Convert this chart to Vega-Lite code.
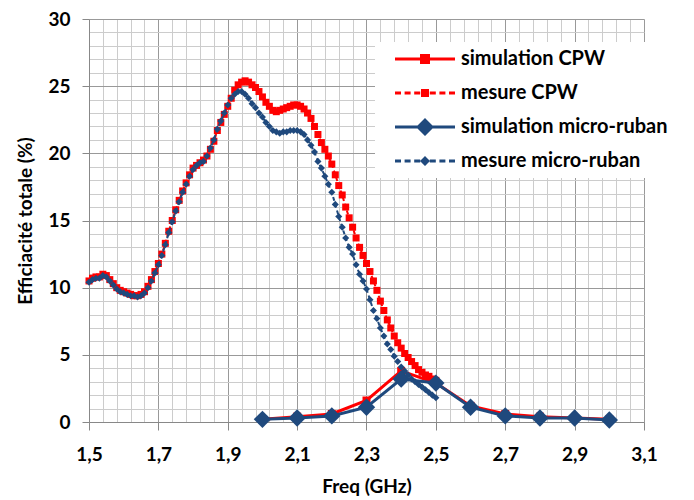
{
"$schema": "https://vega.github.io/schema/vega-lite/v6.json",
"width": 555, "height": 403,
"autosize": "none",
"padding": {"left": 89, "top": 19, "right": 50, "bottom": 78},
"background": "white",
"config": {"view": {"stroke": null}, "font": "Lato"},
"datasets": {
"mesCPW": [
{"f":1.50,"v":10.5},{"f":1.51,"v":10.7},{"f":1.52,"v":10.8},{"f":1.53,"v":10.8},{"f":1.54,"v":11.0},{"f":1.55,"v":10.9},{"f":1.56,"v":10.6},{"f":1.57,"v":10.3},{"f":1.58,"v":10.0},{"f":1.59,"v":9.8},
{"f":1.60,"v":9.7},{"f":1.61,"v":9.6},{"f":1.62,"v":9.5},{"f":1.63,"v":9.4},{"f":1.64,"v":9.4},{"f":1.65,"v":9.5},{"f":1.66,"v":9.7},{"f":1.67,"v":10.1},{"f":1.68,"v":10.6},{"f":1.69,"v":11.2},
{"f":1.70,"v":11.8},{"f":1.71,"v":12.5},{"f":1.72,"v":13.3},{"f":1.73,"v":14.2},{"f":1.74,"v":15.0},{"f":1.75,"v":15.8},{"f":1.76,"v":16.5},{"f":1.77,"v":17.2},{"f":1.78,"v":17.8},{"f":1.79,"v":18.4},
{"f":1.80,"v":18.9},{"f":1.81,"v":19.1},{"f":1.82,"v":19.3},{"f":1.83,"v":19.5},{"f":1.84,"v":19.8},{"f":1.85,"v":20.3},{"f":1.86,"v":20.9},{"f":1.87,"v":21.7},{"f":1.88,"v":22.3},{"f":1.89,"v":22.9},
{"f":1.90,"v":23.5},{"f":1.91,"v":24.1},{"f":1.92,"v":24.7},{"f":1.93,"v":25.1},{"f":1.94,"v":25.3},{"f":1.95,"v":25.4},{"f":1.96,"v":25.3},{"f":1.97,"v":25.1},{"f":1.98,"v":24.9},{"f":1.99,"v":24.6},
{"f":2.00,"v":24.2},{"f":2.01,"v":23.8},{"f":2.02,"v":23.5},{"f":2.03,"v":23.2},{"f":2.04,"v":23.1},{"f":2.05,"v":23.2},{"f":2.06,"v":23.3},{"f":2.07,"v":23.4},{"f":2.08,"v":23.5},{"f":2.09,"v":23.6},
{"f":2.10,"v":23.6},{"f":2.11,"v":23.5},{"f":2.12,"v":23.3},{"f":2.13,"v":23.0},{"f":2.14,"v":22.6},{"f":2.15,"v":22.0},{"f":2.16,"v":21.4},{"f":2.17,"v":20.8},{"f":2.18,"v":20.3},{"f":2.19,"v":19.8},
{"f":2.20,"v":19.2},{"f":2.21,"v":18.4},{"f":2.22,"v":17.6},{"f":2.23,"v":16.9},{"f":2.24,"v":16.0},{"f":2.25,"v":15.2},{"f":2.26,"v":14.5},{"f":2.27,"v":13.7},{"f":2.28,"v":13.0},{"f":2.29,"v":12.4},
{"f":2.30,"v":11.8},{"f":2.31,"v":11.2},{"f":2.32,"v":10.5},{"f":2.33,"v":9.8},{"f":2.34,"v":9.0},{"f":2.35,"v":8.3},{"f":2.36,"v":7.6},{"f":2.37,"v":7.0},{"f":2.38,"v":6.4},{"f":2.39,"v":5.9},
{"f":2.40,"v":5.5},{"f":2.41,"v":5.1},{"f":2.42,"v":4.8},{"f":2.43,"v":4.5},{"f":2.44,"v":4.2},{"f":2.45,"v":3.9},{"f":2.46,"v":3.7},{"f":2.47,"v":3.5},{"f":2.48,"v":3.4},{"f":2.49,"v":3.2},
{"f":2.50,"v":3.1}
],
"mesMicro": [
{"f":1.50,"v":10.4},{"f":1.51,"v":10.6},{"f":1.52,"v":10.7},{"f":1.53,"v":10.7},{"f":1.54,"v":10.9},{"f":1.55,"v":10.8},{"f":1.56,"v":10.5},{"f":1.57,"v":10.2},{"f":1.58,"v":9.9},{"f":1.59,"v":9.7},
{"f":1.60,"v":9.6},{"f":1.61,"v":9.5},{"f":1.62,"v":9.4},{"f":1.63,"v":9.4},{"f":1.64,"v":9.3},{"f":1.65,"v":9.4},{"f":1.66,"v":9.6},{"f":1.67,"v":10.0},{"f":1.68,"v":10.5},{"f":1.69,"v":11.1},
{"f":1.70,"v":11.7},{"f":1.71,"v":12.4},{"f":1.72,"v":13.2},{"f":1.73,"v":14.1},{"f":1.74,"v":14.9},{"f":1.75,"v":15.7},{"f":1.76,"v":16.4},{"f":1.77,"v":17.1},{"f":1.78,"v":17.7},{"f":1.79,"v":18.3},
{"f":1.80,"v":18.8},{"f":1.81,"v":19.1},{"f":1.82,"v":19.3},{"f":1.83,"v":19.4},{"f":1.84,"v":19.8},{"f":1.85,"v":20.4},{"f":1.86,"v":21.0},{"f":1.87,"v":21.8},{"f":1.88,"v":22.4},{"f":1.89,"v":23.0},
{"f":1.90,"v":23.6},{"f":1.91,"v":24.1},{"f":1.92,"v":24.4},{"f":1.93,"v":24.6},{"f":1.94,"v":24.6},{"f":1.95,"v":24.4},{"f":1.96,"v":24.1},{"f":1.97,"v":23.7},{"f":1.98,"v":23.4},{"f":1.99,"v":23.0},
{"f":2.00,"v":22.7},{"f":2.01,"v":22.3},{"f":2.02,"v":22.0},{"f":2.03,"v":21.7},{"f":2.04,"v":21.6},{"f":2.05,"v":21.5},{"f":2.06,"v":21.6},{"f":2.07,"v":21.6},{"f":2.08,"v":21.7},{"f":2.09,"v":21.7},
{"f":2.10,"v":21.7},{"f":2.11,"v":21.6},{"f":2.12,"v":21.4},{"f":2.13,"v":21.0},{"f":2.14,"v":20.6},{"f":2.15,"v":20.1},{"f":2.16,"v":19.4},{"f":2.17,"v":18.9},{"f":2.18,"v":18.3},{"f":2.19,"v":17.7},
{"f":2.20,"v":17.1},{"f":2.21,"v":16.2},{"f":2.22,"v":15.3},{"f":2.23,"v":14.5},{"f":2.24,"v":13.7},{"f":2.25,"v":13.0},{"f":2.26,"v":12.5},{"f":2.27,"v":11.7},{"f":2.28,"v":11.0},{"f":2.29,"v":10.5},
{"f":2.30,"v":9.9},{"f":2.31,"v":9.1},{"f":2.32,"v":8.3},{"f":2.33,"v":7.7},{"f":2.34,"v":7.0},{"f":2.35,"v":6.4},{"f":2.36,"v":5.8},{"f":2.37,"v":5.4},{"f":2.38,"v":4.9},{"f":2.39,"v":4.5},
{"f":2.40,"v":4.1},{"f":2.41,"v":3.8},{"f":2.42,"v":3.5},{"f":2.43,"v":3.2},{"f":2.44,"v":3.0},{"f":2.45,"v":2.8},{"f":2.46,"v":2.6},{"f":2.47,"v":2.4},{"f":2.48,"v":2.2},{"f":2.49,"v":2.0},
{"f":2.50,"v":1.8}
],
"simCPW": [
{"f":2.0,"v":0.2},{"f":2.1,"v":0.4},{"f":2.2,"v":0.6},{"f":2.3,"v":1.6},{"f":2.4,"v":3.8},{"f":2.5,"v":2.9},{"f":2.6,"v":1.2},{"f":2.7,"v":0.6},{"f":2.8,"v":0.4},{"f":2.9,"v":0.3},{"f":3.0,"v":0.2}
],
"simMicro": [
{"f":2.0,"v":0.2},{"f":2.1,"v":0.3},{"f":2.2,"v":0.45},{"f":2.3,"v":1.1},{"f":2.4,"v":3.2},{"f":2.5,"v":2.9},{"f":2.6,"v":1.1},{"f":2.7,"v":0.45},{"f":2.8,"v":0.3},{"f":2.9,"v":0.3},{"f":3.0,"v":0.15}
],
"legend": [
{"series":"simulation CPW"},{"series":"mesure CPW"},{"series":"simulation micro-ruban"},{"series":"mesure micro-ruban"}
]
},
"encoding": {
"x": {"field": "f", "type": "quantitative", "title": "Freq (GHz)",
 "scale": {"domain": [1.5, 3.1], "nice": false, "zero": false},
 "axis": {
  "values": [1.5,1.54,1.58,1.62,1.66,1.7,1.74,1.78,1.82,1.86,1.9,1.94,1.98,2.02,2.06,2.1,2.14,2.18,2.22,2.26,2.3,2.34,2.38,2.42,2.46,2.5,2.54,2.58,2.62,2.66,2.7,2.74,2.78,2.82,2.86,2.9,2.94,2.98,3.02,3.06,3.1],
  "grid": true,
  "gridColor": {"condition": {"test": "abs((datum.value-1.5)*5 - round((datum.value-1.5)*5)) < 0.001", "value": "#999999"}, "value": "#cccccc"},
  "gridWidth": 1,
  "tickColor": {"condition": {"test": "abs((datum.value-1.5)*5 - round((datum.value-1.5)*5)) < 0.001", "value": "#888888"}, "value": "transparent"},
  "tickSize": 8,
  "domainColor": "#888888",
  "labelExpr": "abs((datum.value-1.5)*5 - round((datum.value-1.5)*5)) < 0.001 ? replace(format(datum.value, '.1f'), '.', ',') : ''",
  "labelOverlap": false, "labelFlush": false, "labelBound": false,
  "labelFont": "Lato", "labelFontSize": 19, "labelFontWeight": "bold", "labelColor": "#000000", "labelPadding": 15,
  "titleFont": "Lato", "titleFontSize": 19, "titleFontWeight": "bold", "titleColor": "#000000", "titlePadding": 13
 }},
"y": {"field": "v", "type": "quantitative", "title": "Efficiacité totale  (%)",
 "scale": {"domain": [0, 30], "nice": false},
 "axis": {
  "values": [0,1,2,3,4,5,6,7,8,9,10,11,12,13,14,15,16,17,18,19,20,21,22,23,24,25,26,27,28,29,30],
  "grid": true,
  "gridColor": {"condition": {"test": "datum.value % 5 == 0", "value": "#999999"}, "value": "#cccccc"},
  "gridWidth": 1,
  "tickColor": {"condition": {"test": "datum.value % 5 == 0", "value": "#888888"}, "value": "transparent"},
  "tickSize": 7,
  "domainColor": "#888888",
  "labelExpr": "datum.value % 5 == 0 ? datum.label : ''",
  "labelOverlap": false, "labelFlush": false, "labelBound": false,
  "labelFont": "Lato", "labelFontSize": 19, "labelFontWeight": "bold", "labelColor": "#000000", "labelPadding": 12,
  "titleFont": "Lato", "titleFontSize": 19, "titleFontWeight": "bold", "titleColor": "#000000", "titlePadding": 12
 }}
},
"layer": [
{"data": {"name": "simCPW"}, "mark": {"type": "line", "color": "#FF0000", "strokeWidth": 3}},
{"data": {"name": "simCPW"}, "mark": {"type": "point", "shape": "square", "filled": true, "opacity": 1, "color": "#FF0000", "size": 64}},
{"data": {"name": "mesCPW"}, "mark": {"type": "line", "color": "#FF0000", "strokeWidth": 2, "strokeDash": [4, 3]}},
{"data": {"name": "mesCPW"}, "mark": {"type": "point", "shape": "square", "filled": true, "opacity": 1, "color": "#FF0000", "size": 49}},
{"data": {"name": "simMicro"}, "mark": {"type": "line", "color": "#1F497D", "strokeWidth": 3}},
{"data": {"name": "simMicro"}, "mark": {"type": "point", "shape": "diamond", "filled": true, "opacity": 1, "color": "#1F497D", "size": 300}},
{"data": {"name": "mesMicro"}, "mark": {"type": "line", "color": "#1F497D", "strokeWidth": 2, "strokeDash": [4, 3]}},
{"data": {"name": "mesMicro"}, "mark": {"type": "point", "shape": "diamond", "filled": true, "opacity": 1, "color": "#1F497D", "size": 50}},
{"data": {"name": "legend"}, "mark": {"type": "point", "filled": true, "opacity": 0},
 "encoding": {
  "color": {"field": "series", "type": "nominal",
   "scale": {"domain": ["simulation CPW", "mesure CPW", "simulation micro-ruban", "mesure micro-ruban"], "range": ["#FF0000", "#FF0000", "#1F497D", "#1F497D"]},
   "legend": {"title": null, "orient": "none", "legendX": 286, "legendY": 23, "symbolSize": 400, "symbolStrokeWidth": 0, "symbolOpacity": 1, "symbolOffset": 13,
    "labelFont": "Lato", "labelFontSize": 20, "labelFontWeight": "bold", "labelColor": "#000000", "labelLimit": 400, "labelOffset": 46,
    "fillColor": "white", "padding": 7, "rowPadding": 14}},
  "shape": {"field": "series", "type": "nominal",
   "scale": {"domain": ["simulation CPW", "mesure CPW", "simulation micro-ruban", "mesure micro-ruban"],
    "range": [
     "M-1,-0.15H5V0.15H-1Z M1.5,-0.5H2.5V0.5H1.5Z",
     "M-1,-0.15H-0.4V0.15H-1Z M-0.04,-0.15H0.56V0.15H-0.04Z M0.92,-0.15H1.52V0.15H0.92Z M2.48,-0.15H3.08V0.15H2.48Z M3.44,-0.15H4.04V0.15H3.44Z M4.4,-0.15H5V0.15H4.4Z M1.6,-0.4H2.4V0.4H1.6Z",
     "M-1,-0.15H5V0.15H-1Z M2,-0.9L2.9,0L2,0.9L1.1,0Z",
     "M-1,-0.15H-0.4V0.15H-1Z M-0.04,-0.15H0.56V0.15H-0.04Z M0.92,-0.15H1.52V0.15H0.92Z M2.48,-0.15H3.08V0.15H2.48Z M3.44,-0.15H4.04V0.15H3.44Z M4.4,-0.15H5V0.15H4.4Z M2,-0.5L2.5,0L2,0.5L1.5,0Z"
    ]},
   "legend": {"title": null, "orient": "none", "legendX": 286, "legendY": 23, "symbolSize": 400, "symbolStrokeWidth": 0, "symbolOpacity": 1, "symbolOffset": 13,
    "labelFont": "Lato", "labelFontSize": 20, "labelFontWeight": "bold", "labelColor": "#000000", "labelLimit": 400, "labelOffset": 46,
    "fillColor": "white", "padding": 7, "rowPadding": 14}}
 }}
]
}
